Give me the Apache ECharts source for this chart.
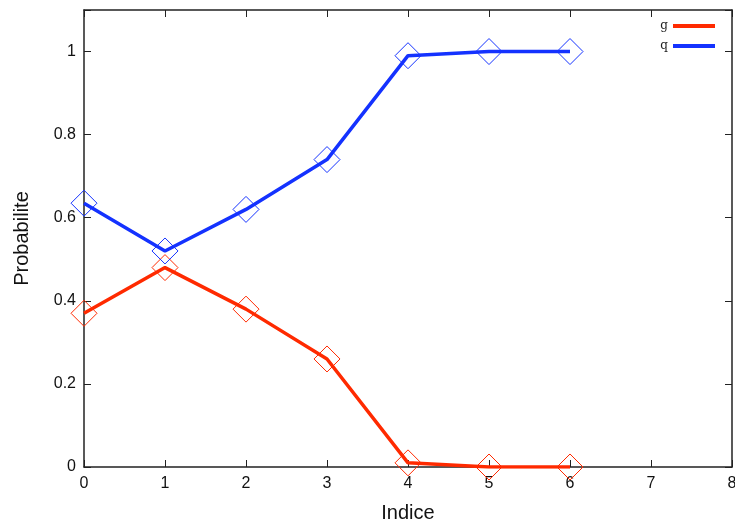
<!DOCTYPE html>
<html><head><meta charset="utf-8">
<script src="https://cdn.jsdelivr.net/npm/echarts@6/dist/echarts.min.js"></script>
<style>html,body{margin:0;padding:0;background:#fff}#c{width:735px;height:525px}</style>
</head><body><div id="c"></div>
<script>
var indices = [0, 1, 2, 3, 4, 5, 6];
var gValues = [0.37, 0.48, 0.38, 0.26, 0.01, 0.0, 0.0];
var qValues = [0.635, 0.52, 0.62, 0.74, 0.99, 1.0, 1.0];
var seriesNames = ['g', 'q'];
var xTicks = [0, 1, 2, 3, 4, 5, 6, 7, 8];
var yTicks = [0, 0.2, 0.4, 0.6, 0.8, 1];

var RED = '#ff2a00', BLUE = '#1432ff';
var GRID = { left: 84, right: 3, top: 10, bottom: 58 };
var W = 735, H = 525;
function pts(vals){ return indices.map(function(x,i){ return [x, vals[i]]; }); }
var font = 'Liberation Sans, Arial, Helvetica, sans-serif';
var chart = echarts.init(document.getElementById('c'));
function mkSeries(name, vals, col){
  return {
    name: name, type: 'line', data: pts(vals),
    symbol: 'diamond', symbolSize: 26,
    lineStyle: { color: col, width: 3.5 },
    itemStyle: { color: 'rgba(0,0,0,0)', borderColor: col, borderWidth: 1 },
    emphasis: { disabled: true }, animation: false
  };
}
function axLine(){ return { show: true, onZero: false, lineStyle: { color: '#222', width: 1.5 } }; }
function tick(){ return { show: true, inside: true, length: 7, lineStyle: { color: '#222', width: 1 } }; }
function tickAxis(pos, min, max, interval){
  return {
    type: 'value', min: min, max: max, interval: interval, position: pos,
    axisLine: axLine(), axisTick: tick(),
    axisLabel: { show: false }, splitLine: { show: false }
  };
}
// top/right tick axes shifted across the plot to the bottom/left edges; outward ticks then point into the plot
function shiftedTickAxis(pos, min, max, interval, offset){
  return {
    type: 'value', min: min, max: max, interval: interval, position: pos, offset: offset,
    axisLine: { show: false, onZero: false },
    axisTick: { show: true, inside: false, length: 7, lineStyle: { color: '#222', width: 1 } },
    axisLabel: { show: false }, splitLine: { show: false }
  };
}
var plotH = H - GRID.top - GRID.bottom, plotW = W - GRID.left - GRID.right;
chart.setOption({
  animation: false,
  grid: { left: GRID.left, right: GRID.right, top: GRID.top, bottom: GRID.bottom, outerBoundsMode: 'none', containLabel: false },
  legend: {
    orient: 'vertical', right: 15, top: 15, align: 'right',
    itemWidth: 42, itemHeight: 4, itemGap: 8,
    icon: 'rect',
    textStyle: { fontFamily: 'DejaVu Serif, Liberation Serif, serif', fontSize: 12, color: '#222' },
    data: [
      { name: 'g', itemStyle: { color: RED, borderWidth: 0 } },
      { name: 'q', itemStyle: { color: BLUE, borderWidth: 0 } }
    ]
  },
  xAxis: [{
    type: 'value', min: 0, max: 8, interval: 1, position: 'bottom',
    name: 'Indice', nameLocation: 'middle', nameGap: 36,
    nameTextStyle: { fontFamily: font, fontSize: 20, color: '#111' },
    axisLine: axLine(), axisTick: tick(),
    axisLabel: { fontFamily: font, fontSize: 16, color: '#111', margin: 9,
      formatter: function(v){ return xTicks.indexOf(v) >= 0 ? String(v) : ''; } },
    splitLine: { show: false }
  },
  tickAxis('top', 0, 8, 1),
  shiftedTickAxis('top', 0, 8, 1, -plotH)],
  yAxis: [{
    type: 'value', min: 0, max: 1.1, interval: 0.2, position: 'left',
    name: 'Probabilite', nameLocation: 'middle', nameGap: 52, nameRotate: 90,
    nameTextStyle: { fontFamily: font, fontSize: 20, color: '#111' },
    axisLine: axLine(), axisTick: tick(),
    axisLabel: { fontFamily: font, fontSize: 16, color: '#111', margin: 8,
      formatter: function(v){
        var r = Math.round(v * 10) / 10;
        return yTicks.indexOf(r) >= 0 ? String(r) : '';
      } },
    splitLine: { show: false }
  },
  tickAxis('right', 0, 1.1, 0.2),
  shiftedTickAxis('right', 0, 1.1, 0.2, -plotW)],
  series: [mkSeries(seriesNames[0], gValues, RED), mkSeries(seriesNames[1], qValues, BLUE)]
});
</script></body></html>
